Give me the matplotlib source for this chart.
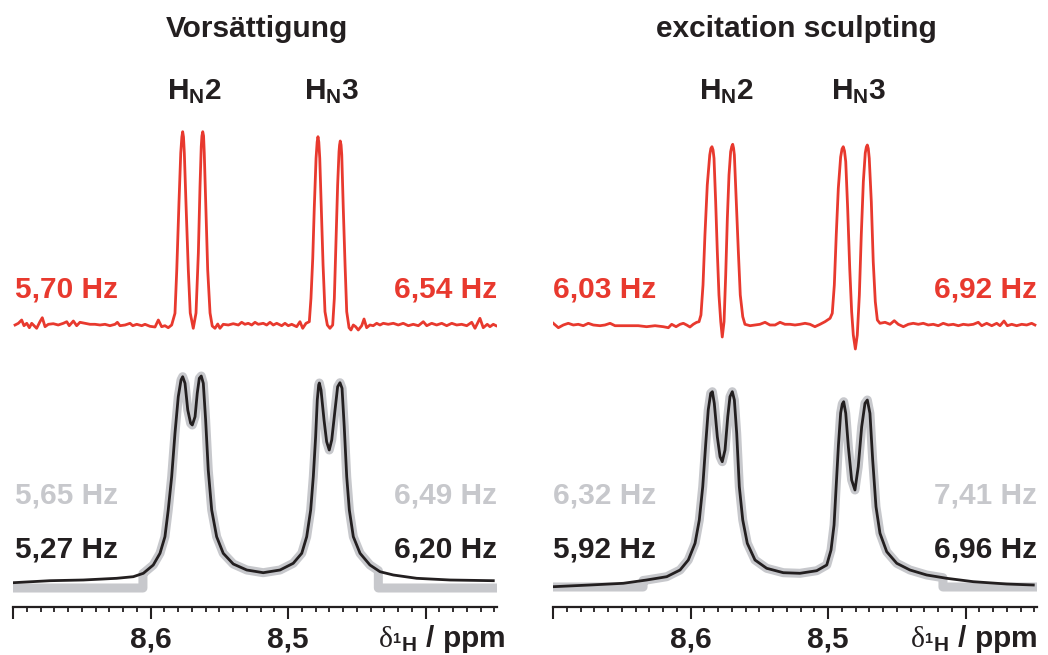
import numpy as np
import matplotlib
matplotlib.use("Agg")
import matplotlib.pyplot as plt
from matplotlib.ticker import FixedLocator, FixedFormatter, MultipleLocator

plt.rcParams['font.family'] = ['Liberation Sans', 'DejaVu Sans']
plt.rcParams['mathtext.fontset'] = 'custom'
plt.rcParams['mathtext.rm'] = 'Liberation Serif'
plt.rcParams['mathtext.bf'] = 'Liberation Sans:bold'
plt.rcParams['mathtext.it'] = 'Liberation Sans:italic'

# ---------------- data (ppm, intensity) ----------------
titles = ["Vorsättigung", "excitation sculpting"]
peak_labels = ["H$_\\mathbf{N}$2", "H$_\\mathbf{N}$3"]
peak_label_ppm = [[8.568, 8.468], [8.574, 8.478]]
red_J = [["5,70 Hz", "6,54 Hz"], ["6,03 Hz", "6,92 Hz"]]
gray_J = [["5,65 Hz", "6,49 Hz"], ["6,32 Hz", "7,41 Hz"]]
black_J = [["5,27 Hz", "6,20 Hz"], ["5,92 Hz", "6,96 Hz"]]
tick_vals = [8.7, 8.6, 8.5, 8.4]
tick_text = ["", "8,6", "8,5", ""]

# resolution-enhanced spectra (red)
red_L_x = [8.6985, 8.6961, 8.6937, 8.6920, 8.6900, 8.6881, 8.6864, 8.6847, 8.6828, 8.6804,
           8.6787, 8.6767, 8.6743, 8.6707, 8.6671, 8.6634, 8.6609, 8.6591, 8.6561, 8.6537,
           8.6513, 8.6476, 8.6440, 8.6404, 8.6367, 8.6331, 8.6295, 8.6258, 8.6241, 8.6222,
           8.6185, 8.6149, 8.6129, 8.6100, 8.6064, 8.6040, 8.6004, 8.5967, 8.5943, 8.5919,
           8.5895, 8.5871, 8.5846,
           8.5822, 8.5809, 8.5793, 8.5780, 8.5772, 8.5766, 8.5760, 8.5754, 8.5742, 8.5725,
           8.5711, 8.5689,
           8.5669, 8.5652, 8.5640, 8.5631, 8.5626, 8.5620, 8.5614, 8.5609, 8.5596, 8.5584,
           8.5567, 8.5551,
           8.5531, 8.5511, 8.5495, 8.5471,
           8.5434, 8.5398, 8.5361, 8.5337, 8.5313, 8.5289, 8.5264, 8.5240, 8.5216, 8.5180,
           8.5155, 8.5131, 8.5107, 8.5082, 8.5046, 8.5022, 8.4998, 8.4973, 8.4937, 8.4913,
           8.4893, 8.4869, 8.4845,
           8.4833, 8.4820, 8.4809, 8.4796, 8.4788, 8.4782, 8.4776, 8.4769, 8.4758, 8.4745,
           8.4731, 8.4714,
           8.4695, 8.4675, 8.4663, 8.4651, 8.4639, 8.4629, 8.4625, 8.4620, 8.4614, 8.4609,
           8.4598, 8.4585,
           8.4573, 8.4556, 8.4542, 8.4525, 8.4508, 8.4489, 8.4464, 8.4447, 8.4428, 8.4404,
           8.4380, 8.4355, 8.4331, 8.4307, 8.4271, 8.4234, 8.4198, 8.4162, 8.4125, 8.4089,
           8.4052, 8.4016, 8.3991, 8.3955, 8.3919, 8.3882, 8.3846, 8.3809, 8.3773, 8.3737,
           8.3700, 8.3664, 8.3640, 8.3604, 8.3580, 8.3551, 8.3531, 8.3507, 8.3487]
red_L_y = [0, 1.7, 5, -0.7, 1.7, -2.7, 1.7, -0.7, -3.3, 3.3,
           7.3, -1.7, 0.7, 1.3, 0, 1.7, 3.3, -0.7, 4, -0.7,
           2.7, 1.7, 0.7, 0.7, 0, 0.7, -0.7, 0.7, 2.7, -0.7,
           0, 1.7, -0.7, 0.7, -0.7, 0.7, -1.3, -2, 5, -1.7,
           -0.7, -2.7, 0,
           11.7, 55, 122, 172, 188, 193.3, 188, 172, 122, 55,
           12, -3.3,
           12, 72, 138.3, 178.3, 189, 193.3, 189, 172, 112, 55,
           12, -1,
           -3.3, 1, -3.3, 0.7,
           0, 1.3, 0, 2.7, 0.7, 1.7, 0, 2.7, 0.7, 1.7,
           0, 2.7, 0, 1.7, -0.7, 1.7, -0.7, 0.7, -1.7, 3.3,
           -3.3, 1.7, 3.3,
           26.7, 66.7, 116.7, 166.7, 183, 188.3, 183, 166.7, 116.7, 60,
           13.3, 0,
           -3.3, 0, 26.7, 83.3, 140, 173.3, 180, 184, 180, 170,
           116.7, 60,
           13.3, -2.7, -5, 0, -1.7, -5, -0.7, 6, -2.7, 0,
           -0.7, 1.7, 0, 1.7, 0.7, 1.7, 0, 1.7, -0.7, 0.7,
           -0.7, 3.3, -0.7, 1.7, 0, 1.7, -0.7, 1.7, 0, 0.7,
           -0.7, 2.7, -3.3, 6.7, -2.7, 0.7, -1.7, 0.7, -0.7]

red_R_x = [8.6998, 8.6961, 8.6925, 8.6889, 8.6852, 8.6816, 8.6780, 8.6743, 8.6707, 8.6658,
           8.6622, 8.6585, 8.6549, 8.6500, 8.6440, 8.6380, 8.6319, 8.6258, 8.6198, 8.6161,
           8.6137, 8.6105, 8.6076, 8.6052, 8.6028, 8.6004, 8.5980, 8.5955, 8.5938,
           8.5924, 8.5909, 8.5895, 8.5878, 8.5860, 8.5852, 8.5844, 8.5836, 8.5829, 8.5817,
           8.5805, 8.5793,
           8.5780, 8.5769, 8.5756, 8.5744, 8.5732, 8.5720, 8.5708, 8.5700, 8.5693, 8.5687,
           8.5681, 8.5667,
           8.5652, 8.5638, 8.5620, 8.5604,
           8.5567, 8.5531, 8.5495, 8.5458, 8.5422, 8.5385, 8.5349, 8.5313, 8.5276, 8.5240,
           8.5204, 8.5167, 8.5131, 8.5095, 8.5058, 8.5022, 8.4985,
           8.4969, 8.4954, 8.4940, 8.4925, 8.4908, 8.4898, 8.4889, 8.4880, 8.4871, 8.4857,
           8.4842, 8.4828,
           8.4816, 8.4801, 8.4787, 8.4772, 8.4758, 8.4743, 8.4729, 8.4721, 8.4714, 8.4707,
           8.4700, 8.4685,
           8.4671, 8.4656, 8.4641, 8.4622,
           8.4585, 8.4549, 8.4518, 8.4489, 8.4452, 8.4416, 8.4380, 8.4343, 8.4307, 8.4271,
           8.4234, 8.4198, 8.4162, 8.4125, 8.4089, 8.4052, 8.4016, 8.3980, 8.3943, 8.3907,
           8.3882, 8.3846, 8.3809, 8.3773, 8.3749, 8.3720, 8.3696, 8.3664, 8.3628, 8.3591,
           8.3555, 8.3519, 8.3495]
red_R_y = [1.7, -2.7, 0, 1.7, 0, 0.7, -0.7, 1.7, 0, -0.7,
           0, 1.7, -0.7, -0.7, -0.7, -0.7, -1.7, -0.7, -1.7, -2.7,
           0.7, -1.7, 0.7, 1.7, 0, -2, 0.7, 2.7, 3.3,
           10, 40, 90, 140, 170, 176.5, 178.3, 175, 166.7, 123.3,
           73.3, 30,
           3.3, -12, 3.3, 50, 106.7, 150, 173.3, 178.5, 180.7, 177,
           170, 123.3,
           73.3, 30, 8.3, 0.7,
           -0.7, 0, 0.7, 2.7, 0, 0, 2.7, 0.7, 0.7, 0,
           0.7, 1.7, 0.7, -1.7, 0.7, 3.3, 6.7,
           11.7, 40, 90, 136.7, 168, 176, 178.3, 174, 163.3, 116.7,
           56.7, 13.3,
           -10, -24, -10, 30, 90, 143.3, 172, 178, 180, 176.5,
           166.7, 123.3,
           63.3, 23.3, 5, 1.7,
           2.7, 0.7, 4.3, 0.7, -1.7, 0.7, 1.7, 0.7, 1.7, 0,
           0.7, -0.7, 1.7, 0, 0.7, -0.7, 0.7, 0, 0.7, 2.7,
           -0.7, 1.7, -0.7, 1.7, -0.7, 4, -0.7, 0.7, -0.7, 0.7,
           0, 1.7, 0]

# experimental spectra (black)
black_L_x = [8.6998, 8.6731, 8.6489, 8.6246, 8.6125, 8.6052, 8.5980, 8.5931, 8.5895, 8.5871,
             8.5846, 8.5822, 8.5798, 8.5778, 8.5766, 8.5749, 8.5729, 8.5708, 8.5696, 8.5676,
             8.5660, 8.5645, 8.5631, 8.5616, 8.5599, 8.5580, 8.5555, 8.5519, 8.5471, 8.5398,
             8.5300, 8.5180, 8.5058, 8.4962, 8.4900, 8.4864, 8.4835, 8.4816, 8.4799, 8.4787,
             8.4777, 8.4772, 8.4760, 8.4738, 8.4719, 8.4700, 8.4682, 8.4658, 8.4639, 8.4622,
             8.4607, 8.4591, 8.4573, 8.4554, 8.4525, 8.4476, 8.4404, 8.4331, 8.4234, 8.4064,
             8.3822, 8.3507]
black_L_y = [2.3, 4.3, 5, 6.7, 8.3, 11.7, 20, 31.7, 48.3, 75,
             108.3, 151.7, 188.3, 205, 208.3, 201.7, 175, 161.7, 160, 168.3,
             191.7, 206.7, 209, 201.7, 165, 115, 75, 48.3, 31.7, 21,
             15, 12.3, 15, 21.7, 31.7, 48.3, 75, 108.3, 148.3, 185,
             200, 202, 195, 165, 143.3, 135, 145, 175, 198.3, 202.3,
             196.7, 158.3, 108.3, 75, 48.3, 31.7, 20, 13.3, 10, 6.7,
             5, 4.3]

black_R_x = [8.6998, 8.6731, 8.6489, 8.6319, 8.6173, 8.6076, 8.6016, 8.5967, 8.5936, 8.5911,
             8.5889, 8.5871, 8.5853, 8.5841, 8.5827, 8.5805, 8.5785, 8.5769, 8.5749, 8.5729,
             8.5713, 8.5696, 8.5681, 8.5664, 8.5645, 8.5620, 8.5587, 8.5531, 8.5446, 8.5325,
             8.5204, 8.5082, 8.5009, 8.4978, 8.4956, 8.4942, 8.4924, 8.4908, 8.4896, 8.4886,
             8.4871, 8.4852, 8.4828, 8.4804, 8.4780, 8.4755, 8.4731, 8.4714, 8.4695, 8.4675,
             8.4651, 8.4622, 8.4573, 8.4500, 8.4404, 8.4282, 8.4137, 8.3943, 8.3700, 8.3507]
black_R_y = [-1.7, 0, 1.7, 5, 8.3, 15, 25, 41.7, 65, 98.3,
             141.7, 175, 191.7, 193.3, 181.7, 148.3, 128.3, 123.3, 135, 168.3,
             188.3, 193.3, 185, 151.7, 98.3, 65, 41.7, 25, 16.7, 12.3,
             11.7, 14.3, 20, 35, 60, 95, 140, 172, 181, 183.3,
             171.7, 138.3, 105, 95, 118.3, 158.3, 181.7, 185, 171.7, 125,
             78.3, 51.7, 33.3, 21.7, 15, 10, 6.7, 3.3, 1, 0]

# fitted spectra (gray): fit window edges and baseline level outside the window
gray_window = [[8.6055, 8.4343], [8.6345, 8.4164]]
gray_floor = [-3, -2]

# ---------------- styling / layout ----------------
RED = '#e8392e'
GRAY = '#c7c8cc'
BLACK = '#231f20'
FS = 21.5
RED_OFF = 282
BLK_OFF = 22
XLIM = (8.70, 8.348)

fig = plt.figure(figsize=(10.48, 6.55), dpi=100)
W, H = 1048.0, 655.0


def fpos(x, y):
    return x / W, 1 - y / H


axes = [fig.add_axes([13 / W, 48 / H, 484 / W, 607 / H]),
        fig.add_axes([553 / W, 48 / H, 484 / W, 607 / H])]

reds = [(red_L_x, red_L_y), (red_R_x, red_R_y)]
blacks = [(black_L_x, black_L_y), (black_R_x, black_R_y)]

for i, ax in enumerate(axes):
    bx = np.array(blacks[i][0])
    by = np.array(blacks[i][1])
    lo, hi = gray_window[i]
    inside = (bx <= lo) & (bx >= hi)
    y_lo = np.interp(lo, bx[::-1], by[::-1])
    y_hi = np.interp(hi, bx[::-1], by[::-1])
    gx = np.concatenate([[XLIM[0], lo, lo], bx[inside], [hi, hi, XLIM[1]]])
    gy = np.concatenate([[gray_floor[i], gray_floor[i], y_lo], by[inside],
                         [y_hi, gray_floor[i], gray_floor[i]]])
    ax.plot(gx, gy + BLK_OFF, color=GRAY, lw=6.5, solid_joinstyle='round',
            solid_capstyle='butt', zorder=1)
    ax.plot(bx, by + BLK_OFF, color=BLACK, lw=2.0, solid_joinstyle='round', zorder=2)
    rx, ry = reds[i]
    ax.plot(rx, np.array(ry) + RED_OFF, color=RED, lw=2.0, solid_joinstyle='round', zorder=2)

    ax.set_xlim(*XLIM)
    ax.set_ylim(0, 607)
    for s in ['left', 'right', 'top']:
        ax.spines[s].set_visible(False)
    ax.spines['bottom'].set_linewidth(1.6)
    ax.spines['bottom'].set_color(BLACK)
    ax.set_yticks([])
    ax.xaxis.set_major_locator(FixedLocator(tick_vals))
    ax.xaxis.set_major_formatter(FixedFormatter(tick_text))
    ax.xaxis.set_minor_locator(MultipleLocator(0.01))
    ax.tick_params(axis='x', which='major', direction='out', length=8.5, width=1.5,
                   color=BLACK, pad=5, labelsize=FS, labelcolor=BLACK)
    ax.tick_params(axis='x', which='minor', direction='out', length=3.8, width=1.3,
                   color=BLACK)
    for lab in ax.get_xticklabels():
        lab.set_fontweight('bold')
    ax.patch.set_alpha(0)

# titles
fig.text(*fpos(257, 37), titles[0], ha='center', va='baseline', fontsize=FS,
         fontweight='bold', color=BLACK)
fig.text(*fpos(796, 37), titles[1], ha='center', va='baseline', fontsize=FS,
         fontweight='bold', color=BLACK)

# peak labels
for i, ax in enumerate(axes):
    for j, lab in enumerate(peak_labels):
        ax.text(peak_label_ppm[i][j], 607 - 99, lab, ha='center', va='baseline',
                fontsize=FS, fontweight='bold', color=BLACK)

# coupling constant labels
lefts = [15, 553]
rights = [497, 1037]
for i in range(2):
    for txts, col, yb in [(red_J[i], RED, 298), (gray_J[i], GRAY, 503), (black_J[i], BLACK, 558)]:
        fig.text(*fpos(lefts[i], yb), txts[0], ha='left', va='baseline', fontsize=FS,
                 fontweight='bold', color=col)
        fig.text(*fpos(rights[i], yb), txts[1], ha='right', va='baseline', fontsize=FS,
                 fontweight='bold', color=col)

# axis unit labels
for xr in [505, 1037]:
    fig.text(*fpos(xr, 647), '$\\mathrm{\\delta}_{\\mathbf{{}^{1}H}}$ / ppm', ha='right',
             va='baseline', fontsize=FS, fontweight='bold', color=BLACK)

fig.savefig('out.png', dpi=100)
